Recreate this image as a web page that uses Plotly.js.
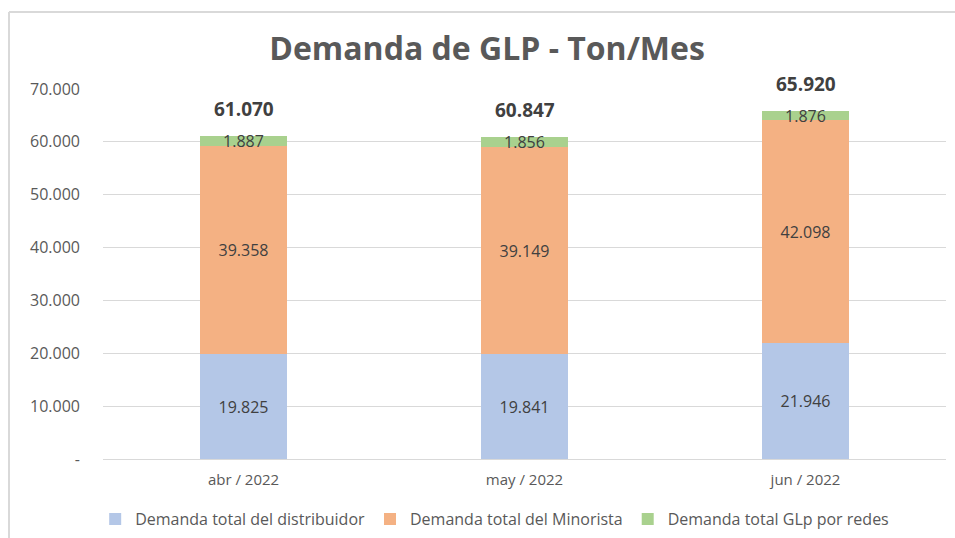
<!DOCTYPE html>
<html>
<head>
<meta charset="utf-8">
<script src="https://cdn.plot.ly/plotly-3.0.1.min.js"></script>
<style>html,body{margin:0;padding:0;background:#fff;}#chart{width:955px;height:538px;}</style>
</head>
<body>
<div id="chart"></div>
<script>
var categories = ["abr / 2022", "may / 2022", "jun / 2022"];
var distribuidor = [19825, 19841, 21946];
var minorista = [39358, 39149, 42098];
var redes = [1887, 1856, 1876];
var totals = [61070, 60847, 65920];
var seriesNames = ["Demanda total del distribuidor", "Demanda total del Minorista", "Demanda total GLp por redes"];
var tickValues = [0, 10000, 20000, 30000, 40000, 50000, 60000, 70000];
var tickLabels = ["-", "10.000", "20.000", "30.000", "40.000", "50.000", "60.000", "70.000"];

function fmt(v) {
  return String(v).replace(/\B(?=(\d{3})+(?!\d))/g, ".");
}

var FONT = "Open Sans, Liberation Sans, sans-serif";
var colors = ["#B4C7E7", "#F4B183", "#A9D18E"];
var seriesData = [distribuidor, minorista, redes];
var traces = seriesData.map(function (vals, i) {
  return {
    type: "bar",
    name: seriesNames[i],
    x: categories,
    y: vals,
    width: 0.31,
    marker: { color: colors[i] },
    text: vals.map(fmt),
    textposition: "inside",
    insidetextanchor: "middle",
    constraintext: "none",
    textfont: { family: FONT, size: 16, color: "#404040" },
    hoverinfo: "skip"
  };
});

var annotations = categories.map(function (c, i) {
  return {
    x: c, y: totals[i], xref: "x", yref: "y",
    text: "<b>" + fmt(totals[i]) + "</b>",
    showarrow: false, yshift: 27,
    font: { family: FONT, size: 19, color: "#404040" }
  };
});

var layout = {
  width: 955, height: 538,
  margin: { l: 103, r: 9, t: 89, b: 79 },
  paper_bgcolor: "#ffffff",
  plot_bgcolor: "#ffffff",
  barmode: "stack",
  showlegend: true,
  title: {
    text: "<b>Demanda de GLP - Ton/Mes</b>",
    font: { family: FONT, size: 32, color: "#595959" },
    x: 0.51, xanchor: "center", xref: "container",
    y: 0.91, yanchor: "middle", yref: "container"
  },
  xaxis: {
    showgrid: false, zeroline: false, showline: false,
    tickfont: { family: FONT, size: 15, color: "#595959" },
    ticks: "", ticklabelstandoff: 10
  },
  yaxis: {
    range: [0, 70000],
    tickvals: tickValues, ticktext: tickLabels,
    showgrid: true, gridcolor: "#D9D9D9", gridwidth: 1,
    zeroline: true, zerolinecolor: "#D9D9D9", zerolinewidth: 1,
    showline: false, ticks: "", ticklabelstandoff: 22,
    tickfont: { family: FONT, size: 16, color: "#595959" }
  },
  legend: {
    orientation: "h", xref: "container", x: 0.518, xanchor: "center",
    yref: "container", y: 0.035, yanchor: "middle",
    font: { family: FONT, size: 16, color: "#595959" },
    itemwidth: 30, traceorder: "normal"
  },
  annotations: annotations,
  shapes: [
    { type: "line", xref: "paper", yref: "paper", x0: -0.1115, x1: -0.1115, y0: 1.208, y1: -0.3, line: { color: "#D9D9D9", width: 2 } },
    { type: "line", xref: "paper", yref: "paper", x0: -0.1115, x1: 1.05, y0: 1.208, y1: 1.208, line: { color: "#D9D9D9", width: 2 } }
  ]
};

Plotly.newPlot("chart", traces, layout, { displayModeBar: false, staticPlot: true });
</script>
</body>
</html>
